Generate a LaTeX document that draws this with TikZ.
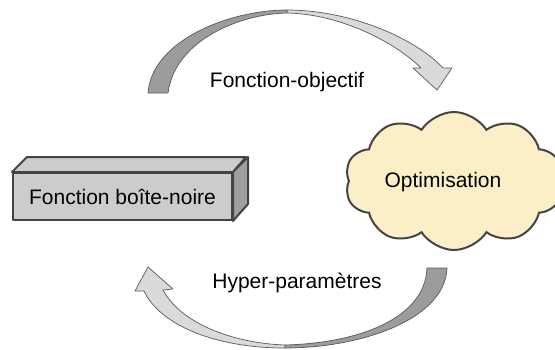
\documentclass[tikz,border=0pt]{standalone}
\usepackage{fontspec}
\setmainfont{Liberation Sans}
\usetikzlibrary{shapes,arrows,positioning}
\definecolor{bord}{HTML}{444444}
\definecolor{nuage}{HTML}{FCEFC7}
\definecolor{dessous}{HTML}{9C9C9C}
\definecolor{dessus}{HTML}{DADADA}
\begin{document}
\begin{tikzpicture}[x=1pt,y=-1pt,font=\fontsize{21}{25}\selectfont,
  face/.style={draw=bord,line width=2pt,line join=round},
  fleche/.style={draw=gray!70!black,line width=0.7pt,line join=round}]
  \useasboundingbox (0,0) rectangle (555,349);
  \node (boite) [face,fill=gray!40,minimum width=219pt,minimum height=47pt,inner sep=0pt] at (122.5,196.5) {Fonction boîte-noire};
  \draw[face,fill=gray!40] (boite.north west) -- ++(15,-15) -- ++(219,0) -- (boite.north east) -- cycle;
  \draw[face,fill=gray!75] (boite.north east) -- ++(15,-15) -- ++(0,47) -- (boite.south east) -- cycle;
  \node (optim) [cloud,cloud puffs=10,cloud puff arc=115,aspect=1.5,draw=bord,line width=2pt,fill=nuage,minimum width=218pt,minimum height=138pt] at (454,181) {};
  \node (opttxt) at (443,182) {Optimisation};
  \node (fo) at (287,82) {Fonction-objectif};
  \node (hp) at (297,283) {Hyper-paramètres};
  \draw[fleche,fill=dessous] (148,93) .. controls (152,40) and (230,10) .. (287,10) -- (287,13) .. controls (240,14) and (175,40) .. (168,93) -- cycle;
  \draw[fleche,fill=dessus] (287,10) .. controls (350,10) and (415,38) .. (443,68) -- (452,68) -- (437,90) -- (413,68) -- (421,68) .. controls (395,42) and (340,14) .. (287,13) -- cycle;
  \draw[fleche,fill=dessous] (447,268) .. controls (445,320) and (360,348) .. (285,348) -- (285,345) .. controls (360,343) and (425,318) .. (427,268) -- cycle;
  \draw[fleche,fill=dessus] (285,348) .. controls (215,348) and (160,325) .. (144,291) -- (135,291) -- (148,267) -- (173,289) -- (163,290) .. controls (180,322) and (230,343) .. (285,345) -- cycle;
\end{tikzpicture}
\end{document}
